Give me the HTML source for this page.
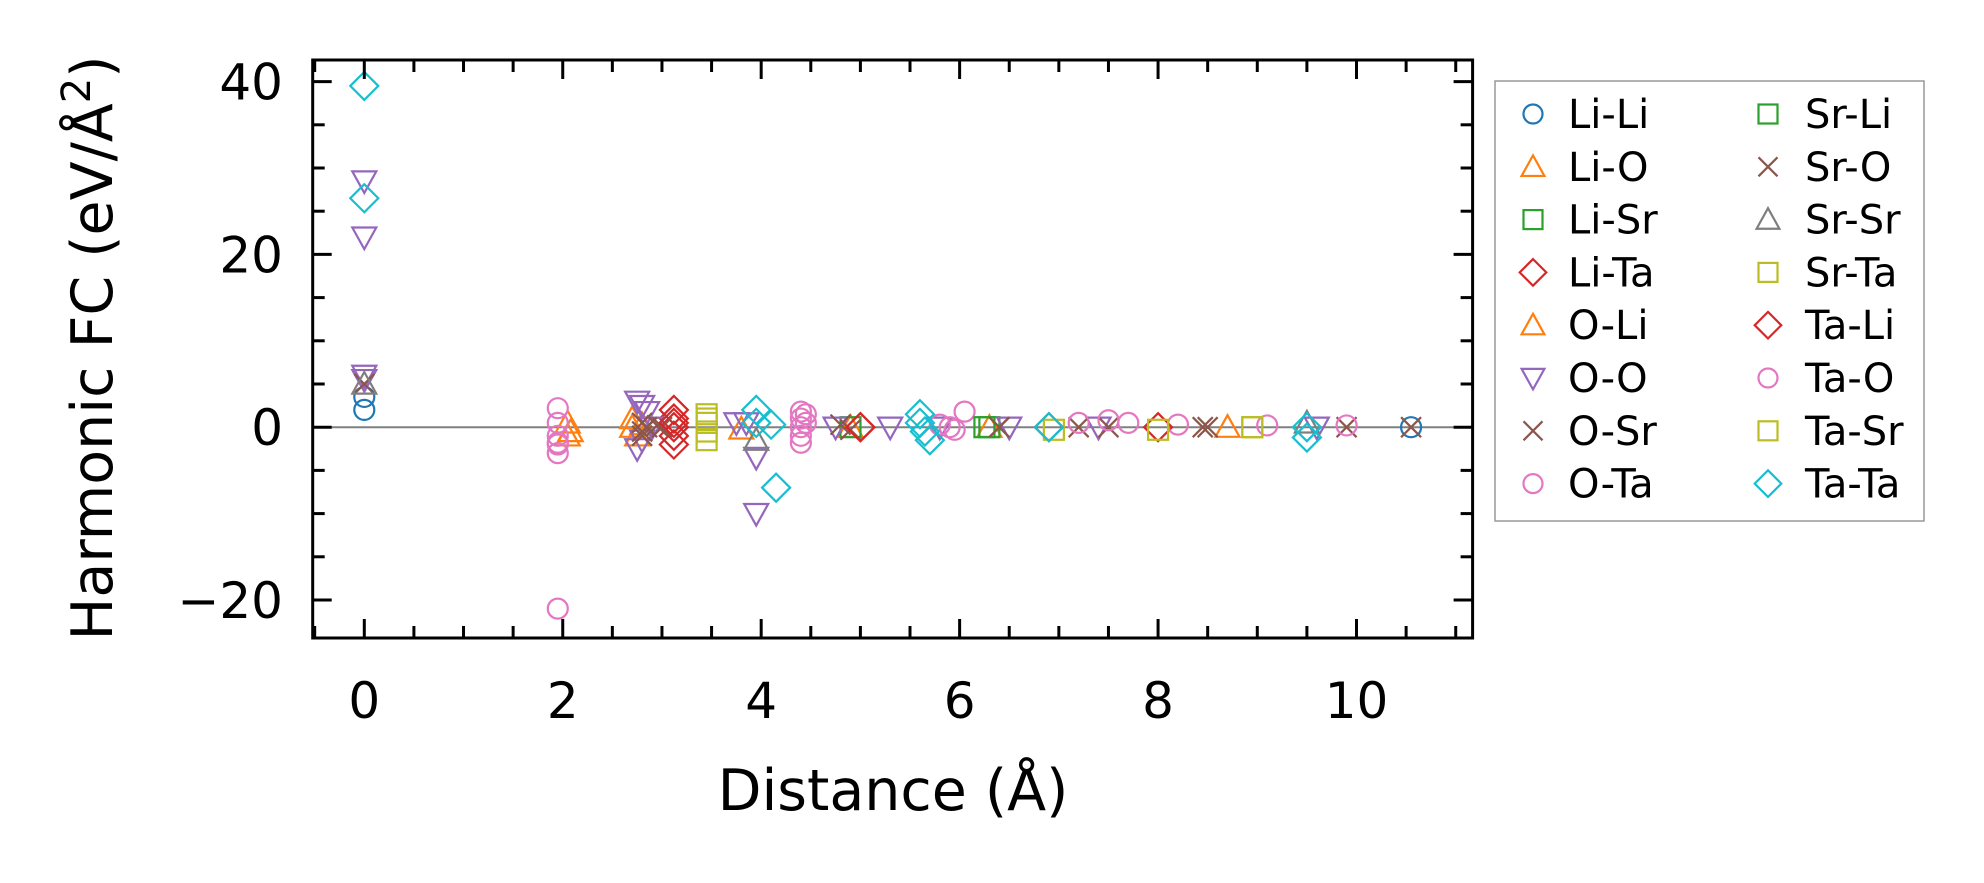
<!DOCTYPE html>
<html><head><meta charset="utf-8"><style>
html,body{margin:0;padding:0;background:#fff;}
svg{display:block;font-family:"DejaVu Sans","Liberation Sans",sans-serif;}
</style></head><body>
<svg id="chart" width="1984" height="883" viewBox="0 0 1984 883" xmlns="http://www.w3.org/2000/svg">
<rect width="1984" height="883" fill="#fff"/>
<g id="plot"></g>
<g id="axes"></g>
<text transform="translate(112,348) rotate(-90)" text-anchor="middle" font-size="57">Harmonic FC (eV/Å<tspan font-size="40" dy="-22">2</tspan><tspan dy="22">)</tspan></text>
<text x="893" y="810" text-anchor="middle" font-size="57">Distance (Å)</text>
<g id="legend"></g>
</svg>
<script>
const liliX=[0,0,10.55]; const liliY=[3.5,2,0];
const lioX=[2.05,2.05,2.7,2.75,2.7,3.8,4.9,6.3,8.7]; const lioY=[0.5,-1,0,-1,1,-0.2,0,0,0];
const lisrX=[4.9,6.3]; const lisrY=[0,0];
const litaX=[3.12,3.12,3.12,3.12,3.12,5.0,6.9,8.0]; const litaY=[2,1,0,-1,-2,0,0,0];
const oliX=[2.08,2.8]; const oliY=[-0.5,0.3];
const ooX=[0,0,0,0,2.75,2.8,2.85,2.75,2.8,2.9,3.75,3.85,3.95,3.95,4.75,5.3,5.8,6.5,7.4,9.6]; const ooY=[28.5,22,6,5.5,3,2.5,1.8,-2.5,-1.5,0,0.5,0.5,-3.5,-10,0,0,0,0,0,0];
const osrX=[0,2.8,2.8,2.85,2.8,2.95,4.8,4.9,6.4,7.2,7.5,8.5,9.9,10.55]; const osrY=[5,0.5,-0.5,0,-1,0.2,0.3,-0.3,0,0,0,0,0,0];
const otaX=[1.95,1.95,1.95,1.95,1.95,1.95,1.95,4.4,4.4,4.4,4.4,4.4,4.45,5.8,5.95,6.05,7.2,7.5,7.7,8.2,9.1,9.9]; const otaY=[-21,2.2,-1.8,-3,-2,0.5,-1,1.8,1,0,-1,-1.8,1.5,0.3,-0.3,1.8,0.5,0.8,0.5,0.3,0.2,0.2];
const srliX=[6.25]; const srliY=[0];
const sroX=[3.0,6.4,8.45]; const sroY=[0,0,0];
const srsrX=[0,3.95,9.5]; const srsrY=[5,-1.5,0.5];
const srtaX=[3.45,3.45,3.45,3.45,6.95,8.0,8.95]; const srtaY=[1.5,0.5,-0.5,-1.5,-0.3,-0.3,0];
const taliX=[3.12,5.0]; const taliY=[0.5,0];
const taoX=[4.45,5.9]; const taoY=[0.5,0];
const tasrX=[3.45,8.95]; const tasrY=[1,0];
const tataX=[0,0,3.95,3.95,4.15,4.1,5.6,5.6,5.65,5.7,6.9,9.5,9.5]; const tataY=[39.5,26.5,2,0.5,-7,0.3,1.5,0.5,-0.5,-1.5,0,0,-1.2];
const seriesNames=["Li-Li","Li-O","Li-Sr","Li-Ta","O-Li","O-O","O-Sr","O-Ta","Sr-Li","Sr-O","Sr-Sr","Sr-Ta","Ta-Li","Ta-O","Ta-Sr","Ta-Ta"];
const xTicks=[0,2,4,6,8,10]; const yTicks=[-20,0,20,40];

const xs=[liliX,lioX,lisrX,litaX,oliX,ooX,osrX,otaX,srliX,sroX,srsrX,srtaX,taliX,taoX,tasrX,tataX];
const ys=[liliY,lioY,lisrY,litaY,oliY,ooY,osrY,otaY,srliY,sroY,srsrY,srtaY,taliY,taoY,tasrY,tataY];
const colors=["#1f77b4","#ff7f0e","#2ca02c","#d62728","#ff7f0e","#9467bd","#8c564b","#e377c2","#2ca02c","#8c564b","#7f7f7f","#bcbd22","#d62728","#e377c2","#bcbd22","#17becf"];
const markers=["o","^","s","D","^","v","x","o","s","x","^","s","D","o","s","D"];
const L=312.7,R=1472.6,T=60,B=638;
const xmin=-0.52,xmax=11.17,ymin=-24.4,ymax=42.5;
const sx=v=>L+(v-xmin)/(xmax-xmin)*(R-L);
const sy=v=>B-(v-ymin)/(ymax-ymin)*(B-T);
const NS="http://www.w3.org/2000/svg";
function el(t,a,p){const e=document.createElementNS(NS,t);for(const k in a)e.setAttribute(k,a[k]);p.appendChild(e);return e;}
function marker(m,x,y,c,p,s){
  s=s||1;let e;const a={fill:"none",stroke:c,"stroke-width":2.2};
  if(m==="o"){a.cx=x;a.cy=y;a.r=10*s;e=el("circle",a,p);}
  else if(m==="s"){a.x=x-10*s;a.y=y-10*s;a.width=20*s;a.height=20*s;e=el("rect",a,p);}
  else if(m==="D"){const r=14*s;a.points=`${x},${y-r} ${x+r},${y} ${x},${y+r} ${x-r},${y}`;e=el("polygon",a,p);}
  else if(m==="^"){const r=12*s;a.points=`${x},${y-r} ${x+r},${y+r*0.8} ${x-r},${y+r*0.8}`;e=el("polygon",a,p);}
  else if(m==="v"){const r=12*s;a.points=`${x},${y+r} ${x+r},${y-r*0.8} ${x-r},${y-r*0.8}`;e=el("polygon",a,p);}
  else {const r=10*s;a.d=`M${x-r},${y-r}L${x+r},${y+r}M${x-r},${y+r}L${x+r},${y-r}`;e=el("path",a,p);}
  return e;
}
const plot=document.getElementById("plot");
const zl=el("line",{x1:L,x2:R,y1:sy(0),y2:sy(0),stroke:"#808080","stroke-width":2},plot);


for(let i=0;i<xs.length;i++){
  const g=el("g",{},plot);
  
  
  for(let j=0;j<xs[i].length;j++){
    const m=marker(markers[i],sx(xs[i][j]),sy(ys[i][j]),colors[i],g);
    
    
  }
}
const ax=document.getElementById("axes");
const fr=el("rect",{x:L,y:T,width:R-L,height:B-T,fill:"none",stroke:"#000","stroke-width":3},ax);


for(let v=-0.5;v<=11.01;v+=0.5){
  const major=Math.abs(v%2)<1e-6;const len=major?19:12;const x=sx(v);
  el("line",{x1:x,x2:x,y1:B,y2:B-len,stroke:"#000","stroke-width":3},ax);
  el("line",{x1:x,x2:x,y1:T,y2:T+len,stroke:"#000","stroke-width":3},ax);
}
for(let v=-20;v<=40;v+=5){
  const major=v%20===0;const len=major?19:12;const y=sy(v);
  el("line",{x1:L,x2:L+len,y1:y,y2:y,stroke:"#000","stroke-width":3},ax);
  el("line",{x1:R,x2:R-len,y1:y,y2:y,stroke:"#000","stroke-width":3},ax);
}
xTicks.forEach(v=>{const t=el("text",{x:sx(v),y:718,"text-anchor":"middle","font-size":50},ax);t.textContent=v;
  
  });
yTicks.forEach(v=>{const t=el("text",{x:283,y:sy(v)+18,"text-anchor":"end","font-size":50},ax);t.textContent=v<0?"\u2212"+(-v):v;
  
  });
const lg=document.getElementById("legend");
el("rect",{x:1495,y:81,width:429,height:440,fill:"#fff",stroke:"#999","stroke-width":1.5},lg);
seriesNames.forEach((n,i)=>{
  const col=Math.floor(i/8),row=i%8;
  const mx=col?1768:1533,tx=col?1805:1568,y=114+row*52.8;
  const g=el("g",{},lg);
  
  
  marker(markers[i],mx,y,colors[i],g,0.95);
  const t=el("text",{x:tx,y:y+14,"font-size":40},g);t.textContent=n;
});
</script>
</body></html>
